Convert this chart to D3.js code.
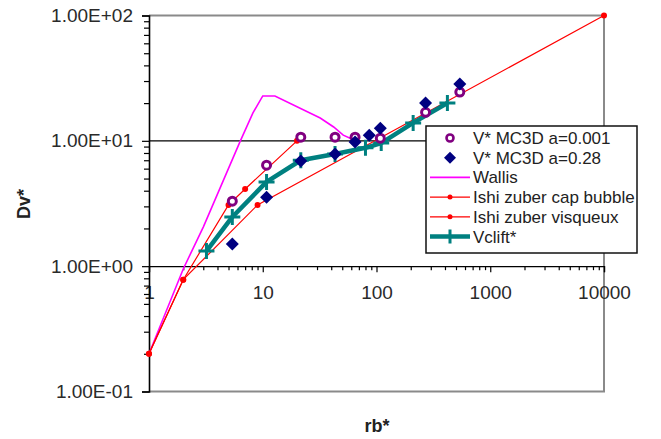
<!DOCTYPE html>
<html><head><meta charset="utf-8">
<script src="https://cdn.jsdelivr.net/npm/d3@7/dist/d3.min.js"></script>
<style>
html,body{margin:0;padding:0;background:#fff;}
svg{display:block;font-family:"Liberation Sans",Arial,sans-serif;}
</style></head>
<body>
<svg id="chart" width="661" height="439"></svg>
<script>
// ---- data ----
const xTickValues = [1, 10, 100, 1000, 10000];
const xTickLabels = ["1", "10", "100", "1000", "10000"];
const yTickValues = [0.1, 1, 10, 100];
const yTickLabels = ["1.00E-01", "1.00E+00", "1.00E+01", "1.00E+02"];

const mc3dA001X = [5.4, 10.8, 21.6, 43.2, 64.8, 108, 270, 540];
const mc3dA001Y = [3.3, 6.4, 10.7, 10.7, 10.7, 10.5, 16.9, 24.5];

const mc3dA028X = [5.4, 10.8, 21.6, 43.2, 64.8, 86.4, 108, 270, 540];
const mc3dA028Y = [1.5, 3.55, 6.9, 7.85, 9.8, 11.1, 12.6, 20, 28.4];

const wallisX = [1, 2, 3, 6.3, 8.2, 10, 12.8, 32, 42, 51, 60];
const wallisY = [0.2, 0.95, 2.05, 9.8, 16.7, 22.8, 22.8, 15.2, 12.9, 11.1, 10.4];

const capBubbleX = [1, 2, 5, 7, 20];
const capBubbleY = [0.2, 0.78, 3.08, 4.13, 10];

const visqueuxX = [1, 2, 9, 10000];
const visqueuxY = [0.2, 0.78, 3.08, 100];

const vclifX = [3.2, 5.4, 10.8, 21.6, 43.2, 80, 110, 210, 420];
const vclifY = [1.32, 2.47, 4.7, 7.0, 7.85, 8.8, 9.6, 13.9, 20];

const legendLabels = ["V* MC3D a=0.001", "V* MC3D a=0.28", "Wallis",
  "Ishi zuber cap bubble", "Ishi zuber visqueux", "Vclift*"];

// ---- drawing ----
const svg = d3.select("#chart");
const L = 149, R = 604, T = 15.5, B = 391.5;
const x = d3.scaleLog().domain([1, 10000]).range([L, R]);
const y = d3.scaleLog().domain([0.1, 100]).range([B, T]);
const zip = (a, b) => a.map((v, i) => [v, b[i]]);

const C = {purple: "#800080", navy: "#000080", magenta: "#ff00ff", red: "#ff0000", teal: "#008080"};

// plot border (grey)
svg.append("path")
  .attr("d", `M${L},${T}H${R}V${B}H${L}`)
  .attr("fill", "none").attr("stroke", "#8a8a8a").attr("stroke-width", 2);

// horizontal gridline at 10
svg.append("line").attr("x1", L).attr("x2", R).attr("y1", y(10)).attr("y2", y(10))
  .attr("stroke", "#000").attr("stroke-width", 1.3);

// minor tick values
const minorX = [], minorY = [];
for (let d = 1; d < 10000; d *= 10) for (let k = 2; k <= 9; k++) minorX.push(d * k);
for (let d = 0.1; d < 99; d *= 10) for (let k = 2; k <= 9; k++) minorY.push(+(d * k).toPrecision(3));

// x axis at y=1
const gx = svg.append("g").attr("transform", `translate(0,${y(1)})`);
gx.call(d3.axisBottom(x).tickValues(minorX).tickSize(4).tickFormat(""));
gx.call(g => g.select(".domain").remove());
const gx2 = svg.append("g").attr("transform", `translate(0,${y(1)})`);
gx2.call(d3.axisBottom(x).tickValues(xTickValues).tickSize(6)
  .tickFormat((d, i) => xTickLabels[i]));
gx2.select(".domain").attr("stroke-width", 1.3);
gx2.selectAll("text").attr("font-size", 19).attr("fill", "#2a2a2a").attr("dy", "1.25em")
  .attr("font-family", "Liberation Sans, Arial, sans-serif");
svg.selectAll("g line").attr("stroke", "#000").attr("stroke-width", 1.2);

// y axis
const gy = svg.append("g").attr("transform", `translate(${L},0)`);
gy.call(d3.axisLeft(y).tickValues(minorY).tickSize(5).tickFormat(""));
gy.call(g => g.select(".domain").remove());
const gy2 = svg.append("g").attr("transform", `translate(${L},0)`);
gy2.call(d3.axisLeft(y).tickValues(yTickValues).tickSize(7).tickPadding(9)
  .tickFormat((d, i) => yTickLabels[i]));
gy2.select(".domain").attr("stroke-width", 1.6).attr("stroke", "#000");
gy2.selectAll("text").attr("font-size", 19).attr("fill", "#2a2a2a")
  .attr("font-family", "Liberation Sans, Arial, sans-serif");
svg.selectAll("g line").attr("stroke", "#000").attr("stroke-width", 1.2);

// axis titles
svg.append("text").attr("x", 377).attr("y", 432).attr("text-anchor", "middle")
  .attr("font-size", 18).attr("font-weight", "bold").attr("fill", "#222").text("rb*");
svg.append("text").attr("transform", "translate(30,204) rotate(-90)").attr("text-anchor", "middle")
  .attr("font-size", 18).attr("font-weight", "bold").attr("fill", "#222").text("Dv*");

const line = d3.line().x(d => x(d[0])).y(d => y(d[1]));

// Wallis
svg.append("path").datum(zip(wallisX, wallisY)).attr("d", line)
  .attr("fill", "none").attr("stroke", C.magenta).attr("stroke-width", 1.6);

// Ishii-Zuber series
[[visqueuxX, visqueuxY], [capBubbleX, capBubbleY]].forEach(([xs, ys]) => {
  const pts = zip(xs, ys);
  svg.append("path").datum(pts).attr("d", line)
    .attr("fill", "none").attr("stroke", C.red).attr("stroke-width", 1.2);
  svg.append("g").selectAll("circle").data(pts).join("circle")
    .attr("cx", d => x(d[0])).attr("cy", d => y(d[1])).attr("r", 3).attr("fill", C.red);
});

// Vclift
const vpts = zip(vclifX, vclifY);
svg.append("path").datum(vpts).attr("d", line)
  .attr("fill", "none").attr("stroke", C.teal).attr("stroke-width", 4.5).attr("stroke-linejoin", "round");
const plus = s => `M${-s},0H${s}M0,${-s}V${s}`;
svg.append("g").selectAll("path").data(vpts).join("path")
  .attr("transform", d => `translate(${x(d[0])},${y(d[1])})`)
  .attr("d", plus(8)).attr("stroke", C.teal).attr("stroke-width", 3);

// MC3D a=0.001 (open circles)
svg.append("g").selectAll("circle").data(zip(mc3dA001X, mc3dA001Y)).join("circle")
  .attr("cx", d => x(d[0])).attr("cy", d => y(d[1])).attr("r", 4)
  .attr("fill", "#fff").attr("stroke", C.purple).attr("stroke-width", 3);

// MC3D a=0.28 (diamonds)
const diamond = s => `M0,${-s}L${s},0L0,${s}L${-s},0Z`;
svg.append("g").selectAll("path").data(zip(mc3dA028X, mc3dA028Y)).join("path")
  .attr("transform", d => `translate(${x(d[0])},${y(d[1])})`)
  .attr("d", diamond(6.5)).attr("fill", C.navy);

// legend
const lg = svg.append("g");
const LX = 426, LY = 126, LW = 211, LH = 127;
svg.append("clipPath").attr("id", "lgclip").append("rect")
  .attr("x", LX).attr("y", LY).attr("width", LW).attr("height", LH);
lg.append("rect").attr("x", LX).attr("y", LY).attr("width", LW).attr("height", LH)
  .attr("fill", "#fff").attr("stroke", "#111").attr("stroke-width", 1.5);
const rowY = i => 138 + i * 19.7;
const lt = lg.append("g").attr("clip-path", "url(#lgclip)");
legendLabels.forEach((t, i) => {
  lt.append("text").attr("x", 473).attr("y", rowY(i) + 6).attr("font-size", 17)
    .attr("fill", "#222").text(t);
});
lg.append("circle").attr("cx", 450).attr("cy", rowY(0)).attr("r", 3.5)
  .attr("fill", "#fff").attr("stroke", C.purple).attr("stroke-width", 2.6);
lg.append("path").attr("transform", `translate(450,${rowY(1)})`).attr("d", diamond(6)).attr("fill", C.navy);
lg.append("line").attr("x1", 430).attr("x2", 470).attr("y1", rowY(2)).attr("y2", rowY(2))
  .attr("stroke", C.magenta).attr("stroke-width", 1.6);
[3, 4].forEach(i => {
  lg.append("line").attr("x1", 430).attr("x2", 470).attr("y1", rowY(i)).attr("y2", rowY(i))
    .attr("stroke", C.red).attr("stroke-width", 1.2);
  lg.append("circle").attr("cx", 450).attr("cy", rowY(i)).attr("r", 2.5).attr("fill", C.red);
});
lg.append("line").attr("x1", 430).attr("x2", 470).attr("y1", rowY(5)).attr("y2", rowY(5))
  .attr("stroke", C.teal).attr("stroke-width", 4.5);
lg.append("path").attr("transform", `translate(450,${rowY(5)})`).attr("d", plus(7))
  .attr("stroke", C.teal).attr("stroke-width", 3);
</script>
</body></html>
